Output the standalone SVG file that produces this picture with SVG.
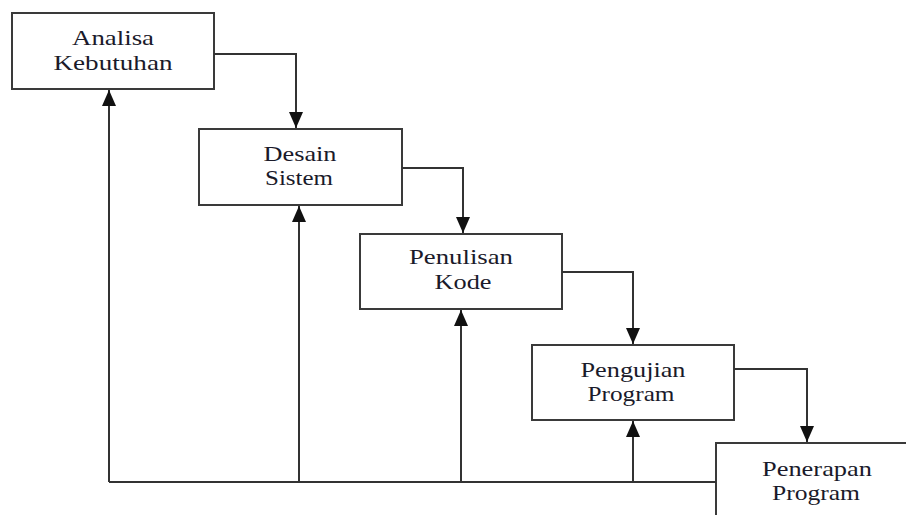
<svg xmlns="http://www.w3.org/2000/svg" width="906" height="515" viewBox="0 0 906 515">
<style>
.box{fill:#fff;stroke:#3a3a3a;stroke-width:2}
.lbl{font-family:'Liberation Serif','DejaVu Serif','Times New Roman',serif;font-size:22px;fill:#1a1a2a;text-anchor:middle}
.ln{fill:none;stroke:#333;stroke-width:2}
</style>
<defs>
<marker id="ah" markerUnits="userSpaceOnUse" markerWidth="16" markerHeight="14" refX="16" refY="7" orient="auto">
<path d="M0,0 L16,7 L0,14 z" fill="#111"/>
</marker>
</defs>
<g id="n1"><rect class="box" x="12" y="13" width="202" height="76"/>
<text class="lbl" x="113" y="45" textLength="82" lengthAdjust="spacingAndGlyphs">Analisa</text>
<text class="lbl" x="113" y="70" textLength="119" lengthAdjust="spacingAndGlyphs">Kebutuhan</text></g>
<g id="n2"><rect class="box" x="199" y="129" width="203" height="76"/>
<text class="lbl" x="300" y="161" textLength="73" lengthAdjust="spacingAndGlyphs">Desain</text>
<text class="lbl" x="299" y="185" textLength="68" lengthAdjust="spacingAndGlyphs">Sistem</text></g>
<g id="n3"><rect class="box" x="360" y="234" width="202" height="75"/>
<text class="lbl" x="461" y="264" textLength="104" lengthAdjust="spacingAndGlyphs">Penulisan</text>
<text class="lbl" x="463" y="289" textLength="57" lengthAdjust="spacingAndGlyphs">Kode</text></g>
<g id="n4"><rect class="box" x="532" y="345" width="202" height="75"/>
<text class="lbl" x="633" y="377" textLength="105" lengthAdjust="spacingAndGlyphs">Pengujian</text>
<text class="lbl" x="631" y="401" textLength="87" lengthAdjust="spacingAndGlyphs">Program</text></g>
<g id="n5"><rect class="box" x="716" y="443" width="210" height="90"/>
<text class="lbl" x="817" y="476" textLength="110" lengthAdjust="spacingAndGlyphs">Penerapan</text>
<text class="lbl" x="816" y="500" textLength="88" lengthAdjust="spacingAndGlyphs">Program</text></g>
<g id="connectors">
<path class="ln" d="M214,54 H296 V128" marker-end="url(#ah)"/>
<path class="ln" d="M402,168 H463 V233" marker-end="url(#ah)"/>
<path class="ln" d="M562,272 H633 V344" marker-end="url(#ah)"/>
<path class="ln" d="M734,369 H807 V442" marker-end="url(#ah)"/>
<path class="ln" d="M716,482 H109"/>
<path class="ln" d="M109,482 V90" marker-end="url(#ah)"/>
<path class="ln" d="M299,482 V206" marker-end="url(#ah)"/>
<path class="ln" d="M461,482 V310" marker-end="url(#ah)"/>
<path class="ln" d="M633,482 V421" marker-end="url(#ah)"/>
</g>
</svg>
